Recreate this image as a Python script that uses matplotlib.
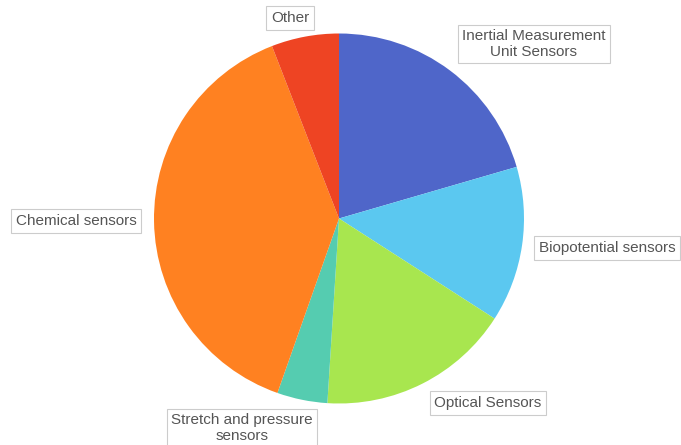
import matplotlib
matplotlib.use("Agg")
import matplotlib.pyplot as plt

categories = ["Inertial Measurement\nUnit Sensors", "Biopotential sensors", "Optical Sensors",
              "Stretch and pressure\nsensors", "Chemical sensors", "Other"]
values = [20.5, 13.6, 16.9, 4.4, 38.7, 5.9]
colors = ["#4F66C9", "#5BC8F0", "#A8E64F", "#55CCB0", "#FF8121", "#EE4423"]

# label box centres in pixel coordinates (layout)
label_px = [(534, 44), (607, 248), (488, 403), (242, 428), (76, 221), (290, 18)]

W, H = 681, 445
cx, cy, r = 339, 218.5, 185

fig = plt.figure(figsize=(W / 100, H / 100), dpi=100)
ax = fig.add_axes([0, 0, 1, 1])
ax.pie(values, colors=colors, startangle=90, counterclock=False, radius=1,
       wedgeprops=dict(linewidth=0))
ax.set_xlim(-cx / r, (W - cx) / r)
ax.set_ylim(-(H - cy) / r, cy / r)
ax.set_aspect("equal")
ax.axis("off")

for lab, (px, py) in zip(categories, label_px):
    ax.text((px - cx) / r, (cy - py) / r, lab, ha="center", va="center",
            multialignment="center", fontsize=11, color="#555555",
            family=["Liberation Sans", "DejaVu Sans"], linespacing=1.1,
            bbox=dict(boxstyle="square,pad=0.3", facecolor="white",
                      edgecolor="#cccccc", linewidth=0.8))

fig.savefig("out.png", dpi=100, facecolor="white")
